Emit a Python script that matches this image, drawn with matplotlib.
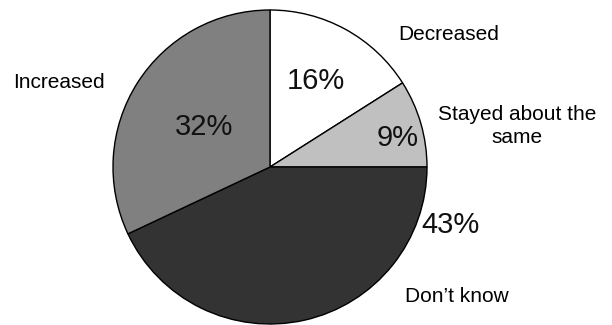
import matplotlib.pyplot as plt

plt.rcParams['font.family'] = ['Liberation Sans', 'DejaVu Sans']

# survey responses
categories = ['Decreased', 'Stayed about the\nsame', 'Don\u2019t know', 'Increased']
shares = [16, 9, 43, 32]
colors = ['#ffffff', '#c0c0c0', '#333333', '#808080']

# label placement in pixels (x, y from top)
name_pos = [(449, 34), (517, 126), (457, 297), (59, 82)]
pct_pos = [(316, 81), (398, 138), (450, 225), (204, 127)]

W, H = 612, 325
fig = plt.figure(figsize=(W / 100, H / 100), dpi=100)
ax = fig.add_axes([0, 0, 1, 1])

ax.pie(shares, colors=colors, startangle=90, counterclock=False,
       center=(270, H - 167), radius=157, frame=True,
       wedgeprops=dict(edgecolor='black', linewidth=1.0))
ax.set_xlim(0, W)
ax.set_ylim(0, H)
ax.set_aspect('equal')
ax.axis('off')

for name, (x, y) in zip(categories, name_pos):
    ax.text(x, H - y, name, ha='center', va='center', fontsize=15,
            linespacing=1.3)

for val, (x, y) in zip(shares, pct_pos):
    ax.text(x, H - y, f'{val}%', ha='center', va='center', fontsize=21,
            color='#111111')

fig.savefig('out.png', dpi=100)
